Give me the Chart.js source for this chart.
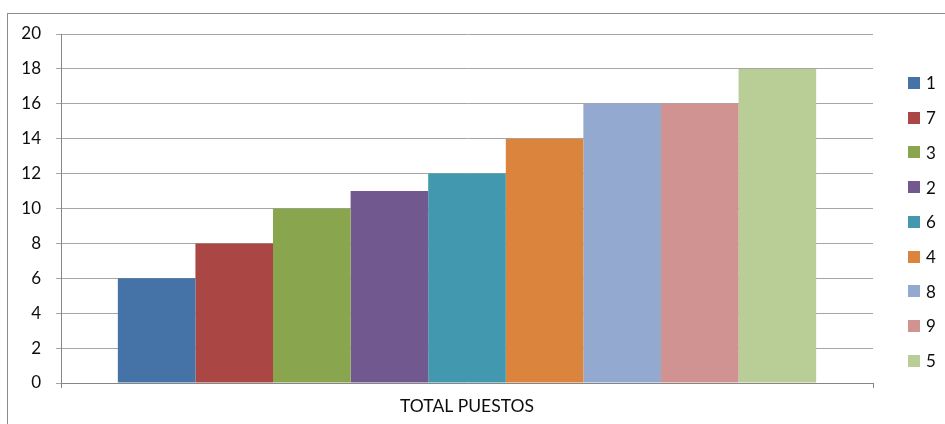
<!DOCTYPE html>
<html>
<head>
<meta charset="utf-8">
<script src="https://cdn.jsdelivr.net/npm/chart.js@4.4.0/dist/chart.umd.min.js"></script>
<style>
  html, body { margin: 0; padding: 0; background: #fff; }
  #wrap { width: 945px; height: 424px; }
</style>
</head>
<body>
<div id="wrap"><canvas id="puestosChart" width="945" height="424"></canvas></div>
<script>
// ========== DATA ==========
const categories = ['TOTAL PUESTOS'];
const seriesNames = ['1', '7', '3', '2', '6', '4', '8', '9', '5'];
const seriesValues = [6, 8, 10, 11, 12, 14, 16, 16, 18];
const seriesColors = ['#4572A7', '#AA4643', '#89A54E', '#71588F', '#4198AF', '#DB843D', '#93A9CF', '#D19392', '#B9CD96'];
const yTicks = [0, 2, 4, 6, 8, 10, 12, 14, 16, 18, 20];

const FONT = 'Lato, "Liberation Sans", sans-serif';
const TEXT = '#0d0d0d';

// outer frame + legend on the right, Excel style
const frameAndLegend = {
  id: 'frameAndLegend',
  beforeDraw(chart) {
    const ctx = chart.ctx;
    ctx.save();
    ctx.strokeStyle = '#8c8c8c';
    ctx.lineWidth = 1;
    ctx.strokeRect(7.5, 13.5, 945, 430);
    ctx.restore();
  },
  afterDraw(chart) {
    const ctx = chart.ctx;
    const x0 = chart.chartArea.right + 35;
    ctx.save();
    ctx.font = '17px ' + FONT;
    ctx.textBaseline = 'middle';
    chart.data.datasets.forEach((ds, i) => {
      const yc = 83 + i * 34.7;
      ctx.fillStyle = ds.backgroundColor;
      ctx.fillRect(x0, Math.round(yc - 6), 12, 12);
      ctx.fillStyle = TEXT;
      ctx.fillText(ds.label, x0 + 18, yc + 1);
    });
    ctx.restore();
  }
};

const puestosChart = new Chart(document.getElementById('puestosChart'), {
  type: 'bar',
  data: {
    labels: categories,
    datasets: seriesNames.map((name, i) => ({
      label: name,
      data: [seriesValues[i]],
      backgroundColor: seriesColors[i],
      borderWidth: 0,
      categoryPercentage: 0.86,
      barPercentage: 1
    }))
  },
  options: {
    responsive: false,
    animation: false,
    layout: { padding: { top: 34, right: 72, left: 0, bottom: 0 } },
    plugins: {
      legend: { display: false },
      tooltip: { enabled: false }
    },
    scales: {
      x: {
        grid: { offset: true, drawOnChartArea: false, tickLength: 5, color: '#868686' },
        border: { color: '#868686' },
        ticks: { color: TEXT, font: { family: FONT, size: 17.5 }, padding: 8 },
        afterFit(scale) { scale.height = 41; }
      },
      y: {
        min: 0,
        max: 20,
        afterBuildTicks(scale) { scale.ticks = yTicks.map(v => ({ value: v })); },
        grid: { color: '#a6a6a6', tickLength: 5 },
        border: { color: '#868686' },
        ticks: { color: TEXT, font: { family: FONT, size: 17 }, padding: 15 },
        afterFit(scale) { scale.width = 61; }
      }
    }
  },
  plugins: [frameAndLegend]
});
</script>
</body>
</html>
